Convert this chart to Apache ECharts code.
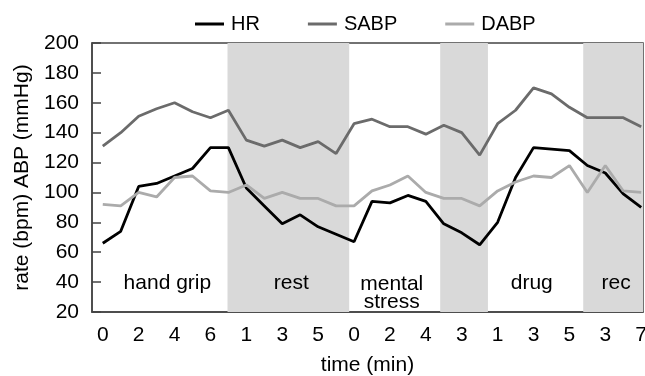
<!DOCTYPE html>
<html>
<head>
<meta charset="utf-8">
<script src="https://cdn.jsdelivr.net/npm/echarts@6/dist/echarts.min.js"></script>
<style>
  html, body { margin: 0; padding: 0; background: #fff; }
  #chart { width: 645px; height: 376px; }
</style>
</head>
<body>
<div id="chart"></div>
<script>
// Sample index along the protocol (one sample per step)
const sampleIndex = Array.from({ length: 31 }, (_, i) => i);

// Heart rate (bpm) and arterial blood pressures (mmHg)
const hr   = [66, 74, 104, 106, 111, 116, 130, 130, 103, 91, 79, 85, 77, 72, 67, 94, 93, 98, 94, 79, 73, 65, 80, 110, 130, 129, 128, 118, 113, 99, 90];
const sabp = [131, 140, 151, 156, 160, 154, 150, 155, 135, 131, 135, 130, 134, 126, 146, 149, 144, 144, 139, 145, 140, 125, 146, 155, 170, 166, 157, 150, 150, 150, 144];
const dabp = [92, 91, 100, 97, 110, 111, 101, 100, 105, 96, 100, 96, 96, 91, 91, 101, 105, 111, 100, 96, 96, 91, 101, 107, 111, 110, 118, 100, 118, 101, 100];

// Time-of-phase tick labels, placed at every second sample
const xTickPos = [0, 2, 4, 6, 8, 10, 12, 14, 16, 18, 20, 22, 24, 26, 28, 30];
const xTickLabels = ['0', '2', '4', '6', '1', '3', '5', '0', '2', '4', '3', '1', '3', '5', '3', '7'];

// Shaded (resting) phases, as [start, end] on the sample axis
const shadedPhases = [[6.95, 13.73], [18.8, 21.46], [26.77, 30.1]];

// Phase captions and where they sit on the axes
const phaseNames = ['hand grip', 'rest', 'mental\nstress', 'drug', 'rec'];
const phaseX = [3.6, 10.5, 16.1, 23.9, 28.6];
const phaseY = [39, 39, 32.6, 39, 39];

const font = '"Liberation Sans", Arial, Helvetica, sans-serif';

const chart = echarts.init(document.getElementById('chart'));

const lineSeries = (name, data, color) => ({
  name,
  type: 'line',
  data: sampleIndex.map((x, i) => [x, data[i]]),
  showSymbol: false,
  symbol: 'none',
  lineStyle: { color, width: 2.8 },
  itemStyle: { color },
  z: 3
});

chart.setOption({
  animation: false,
  textStyle: { fontFamily: font },
  grid: {
    left: 92, right: 2, top: 43, bottom: 64,
    outerBoundsMode: 'none', containLabel: false,
    show: true, borderColor: '#444', borderWidth: 1.5, backgroundColor: 'transparent'
  },
  legend: {
    left: 190, top: 9,
    icon: 'rect', itemWidth: 29, itemHeight: 3, itemGap: 48,
    textStyle: { fontFamily: font, fontSize: 20, color: '#000', padding: [0, 0, 0, 2] },
    data: ['HR', 'SABP', 'DABP']
  },
  xAxis: {
    type: 'value',
    min: -0.6, max: 30.1,
    name: 'time (min)', nameLocation: 'middle', nameGap: 43,
    nameTextStyle: { fontFamily: font, fontSize: 21, color: '#000' },
    axisLine: { show: true, onZero: false, lineStyle: { color: '#444', width: 1.5 } },
    axisTick: { show: false },
    splitLine: { show: false },
    axisLabel: {
      customValues: xTickPos,
      fontFamily: font, fontSize: 21, color: '#000', margin: 13,
      formatter: v => {
        const k = xTickPos.indexOf(Math.round(v));
        return k >= 0 ? xTickLabels[k] : '';
      }
    }
  },
  yAxis: {
    type: 'value',
    min: 20, max: 200, interval: 20,
    name: 'rate (bpm) ABP (mmHg)', nameLocation: 'middle', nameGap: 58,
    nameTextStyle: { fontFamily: font, fontSize: 21, color: '#000' },
    axisLine: { show: true, onZero: false, lineStyle: { color: '#444', width: 1.5 } },
    axisTick: { show: true, inside: true, length: 9, lineStyle: { color: '#444', width: 1.5 } },
    splitLine: { show: false },
    axisLabel: { fontFamily: font, fontSize: 21, color: '#000', margin: 13, padding: [9, 0, 0, 0] }
  },
  series: [
    Object.assign(lineSeries('HR', hr, '#000000'), {
      markArea: {
        silent: true,
        itemStyle: { color: '#d9d9d9' },
        data: shadedPhases.map(([a, b]) => [{ xAxis: a, yAxis: 20 }, { xAxis: b, yAxis: 200 }])
      }
    }),
    lineSeries('SABP', sabp, '#6b6b6b'),
    lineSeries('DABP', dabp, '#ababab'),
    {
      name: 'phases',
      type: 'scatter',
      data: phaseX.map((x, i) => [x, phaseY[i], phaseNames[i]]),
      symbolSize: 1,
      itemStyle: { opacity: 0 },
      silent: true,
      z: 4,
      label: {
        show: true, position: 'inside', opacity: 1,
        formatter: p => p.data[2],
        fontFamily: font, fontSize: 21, color: '#000', lineHeight: 18,
        textBorderWidth: 0
      }
    }
  ]
});
</script>
</body>
</html>
